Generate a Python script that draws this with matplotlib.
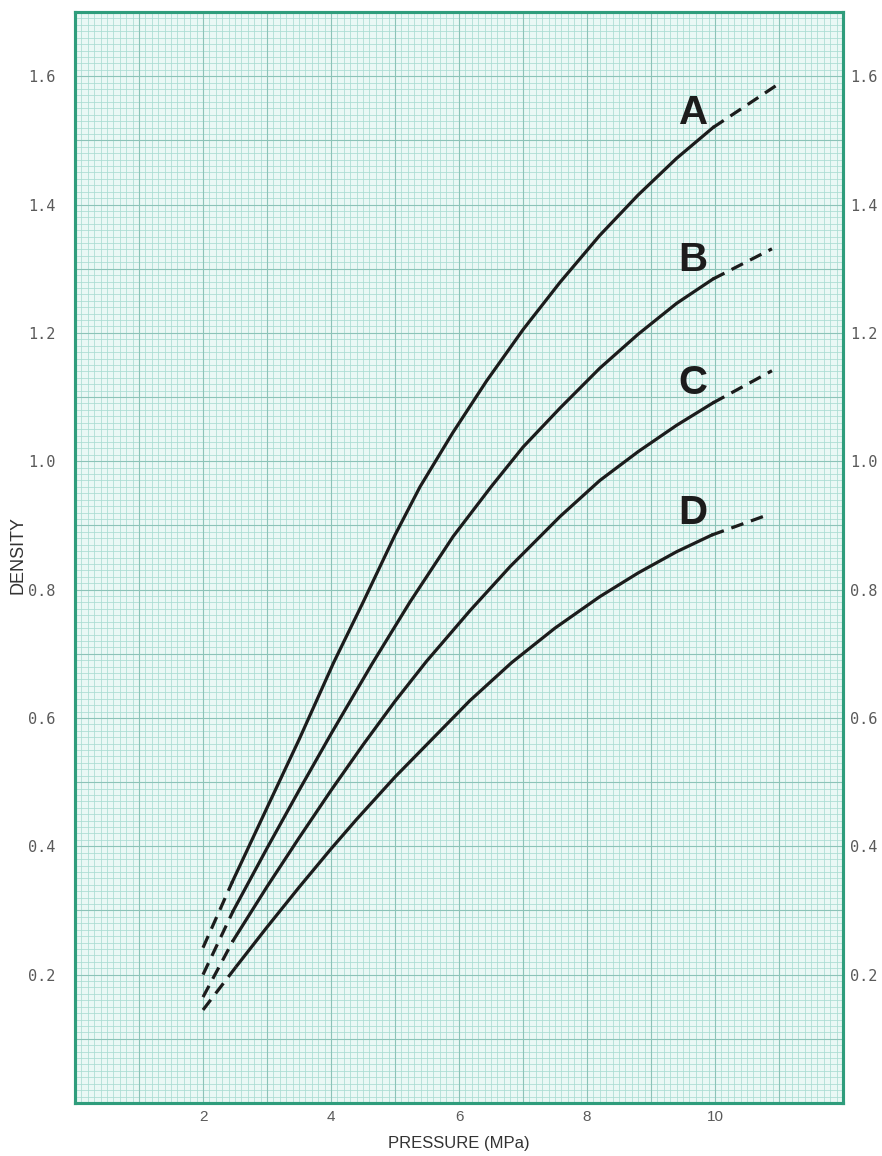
import matplotlib.pyplot as plt
from matplotlib.ticker import MultipleLocator

# Pressure (MPa) / density readings per curve; first and last segment are dashed
A_P = [2.0, 2.46, 3.0, 3.5, 4.04, 4.5, 5.0, 5.39, 5.9, 6.43, 7.0, 7.58, 8.2, 8.8, 9.4, 9.97, 10.95]
A_D = [0.242, 0.345, 0.460, 0.566, 0.686, 0.780, 0.885, 0.960, 1.044, 1.125, 1.205, 1.279,
       1.352, 1.415, 1.472, 1.520, 1.585]

B_P = [2.0, 2.47, 3.0, 3.5, 4.0, 4.64, 5.23, 5.91, 6.5, 7.0, 7.58, 8.2, 8.8, 9.4, 9.97, 10.89]
B_D = [0.200, 0.299, 0.397, 0.487, 0.575, 0.684, 0.780, 0.883, 0.960, 1.022, 1.083, 1.145,
       1.198, 1.246, 1.284, 1.331]

C_P = [2.0, 2.47, 3.0, 3.5, 4.0, 4.5, 5.0, 5.49, 6.17, 6.8, 7.58, 8.2, 8.8, 9.4, 9.97, 10.89]
C_D = [0.165, 0.253, 0.337, 0.413, 0.487, 0.558, 0.626, 0.688, 0.767, 0.836, 0.914, 0.970,
       1.015, 1.056, 1.091, 1.141]

D_P = [2.0, 2.53, 3.0, 3.5, 4.0, 4.4, 5.0, 5.6, 6.17, 6.82, 7.5, 8.2, 8.8, 9.4, 9.95, 10.84]
D_D = [0.145, 0.214, 0.274, 0.336, 0.396, 0.442, 0.508, 0.569, 0.627, 0.686, 0.740, 0.789,
       0.826, 0.859, 0.885, 0.917]

CURVES = {"A": (A_P, A_D), "B": (B_P, B_D), "C": (C_P, C_D), "D": (D_P, D_D)}
LABEL_POS = {"A": (9.66, 1.543), "B": (9.66, 1.314), "C": (9.66, 1.122), "D": (9.66, 0.920)}

X_TICKS = [2, 4, 6, 8, 10]
Y_TICKS = [0.2, 0.4, 0.6, 0.8, 1.0, 1.2, 1.4, 1.6]

PAPER = "#eaf8f5"
MINOR = "#a9dcd2"
MAJOR = "#8cc3b8"
FRAME = "#2f9d7c"
INK = "#1c1c1c"
TICK_INK = "#5a5a5a"

fig = plt.figure(figsize=(8.82, 11.56), dpi=100)
ax = fig.add_axes([75 / 882, 53 / 1156, 768 / 882, 1091 / 1156])
ax.set_facecolor(PAPER)
ax.set_xlim(0, 12)
ax.set_ylim(0, 1.7)

# graph paper
ax.xaxis.set_minor_locator(MultipleLocator(0.1))
ax.yaxis.set_minor_locator(MultipleLocator(0.01))
ax.grid(which="minor", color=MINOR, linewidth=0.55, zorder=0)
for x in range(0, 13):
    ax.axvline(x, color=MAJOR, linewidth=0.8, zorder=1)
for i in range(0, 18):
    ax.axhline(i / 10, color=MAJOR, linewidth=0.8, zorder=1)
ax.set_axisbelow(True)

for name, (p, d) in CURVES.items():
    ax.plot(p[:2], d[:2], color=INK, linewidth=2.3, dashes=(4, 2.5), zorder=3,
            dash_capstyle="butt")
    ax.plot(p[1:-1], d[1:-1], color=INK, linewidth=2.3, zorder=3, solid_joinstyle="round")
    ax.plot(p[-2:], d[-2:], color=INK, linewidth=2.3, dashes=(4, 2.5), zorder=3,
            dash_capstyle="butt")
    lx, ly = LABEL_POS[name]
    ax.text(lx, ly, name, fontsize=29, fontweight="bold", family="Liberation Sans",
            color=INK, ha="center", va="center", zorder=4)

ax.set_xticks(X_TICKS)
ax.set_xticklabels([str(v) for v in X_TICKS], fontsize=11, color=TICK_INK,
                   family="Liberation Sans")
ax.set_yticks(Y_TICKS)
ax.set_yticklabels([f"{v:.1f}" for v in Y_TICKS], fontsize=11, color=TICK_INK,
                   family="DejaVu Sans Mono")
ax.tick_params(axis="both", which="both", length=0)
ax.tick_params(axis="y", pad=14)
ax.tick_params(axis="x", pad=5)

ax2 = ax.twinx()
ax2.set_ylim(0, 1.7)
ax2.set_yticks(Y_TICKS)
ax2.set_yticklabels([f"{v:.1f}" for v in Y_TICKS], fontsize=11, color=TICK_INK,
                    family="DejaVu Sans Mono")
ax2.tick_params(axis="y", length=0, pad=5)

for a in (ax, ax2):
    for s in a.spines.values():
        s.set_color(FRAME)
        s.set_linewidth(2.2)

ax.set_xlabel("PRESSURE (MPa)", fontsize=12, color="#333333", family="Liberation Sans",
              labelpad=9)
fig.text(18 / 882, 1 - 555 / 1156, "DENSITY", rotation=90, fontsize=13, color="#333333",
         family="Liberation Sans", ha="center", va="center")

fig.savefig("out.png", dpi=100, facecolor="white")
